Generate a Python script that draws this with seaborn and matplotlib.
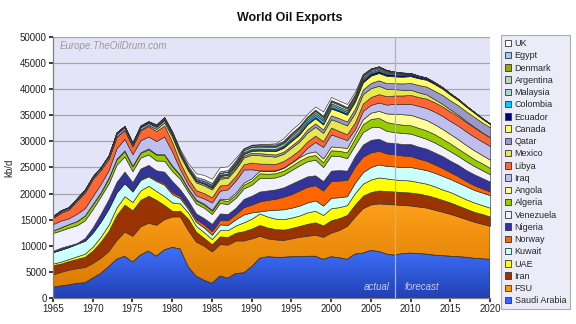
import numpy as np
import pandas as pd
import matplotlib
matplotlib.use("Agg")
import matplotlib.pyplot as plt
from matplotlib.patches import Patch
from matplotlib.colors import LinearSegmentedColormap
import seaborn as sns

years = list(range(1965, 2021))

# Net oil exports, kb/d (1965-2007 actual, 2008-2020 forecast)
saudi = [2050, 2300, 2500, 2800, 2900, 3800, 4700, 6000, 7400, 8000,
         6900, 8200, 9000, 8000, 9200, 9700, 9400, 6000, 4200, 3400,
         2800, 4200, 3800, 4700, 4800, 6000, 7600, 7900, 7800, 7800,
         7900, 7900, 8000, 8000, 7400, 7900, 7700, 7400, 8400, 8600,
         9100, 8900, 8400, 8200, 8500, 8600, 8500, 8400, 8200, 8100,
         8000, 7900, 7800, 7600, 7500, 7400]
fsu = [2450, 2700, 2900, 2900, 3000, 2900, 3000, 3000, 3700, 4700,
       5000, 5500, 5400, 6000, 5900, 5900, 6200, 7000, 6600, 6600,
       6100, 6100, 6400, 6300, 6200, 5400, 4300, 3500, 3400, 3300,
       3500, 3800, 3900, 4100, 4300, 4600, 5300, 6400, 7200, 8600,
       8800, 9200, 9600, 9700, 9300, 9100, 9000, 8900, 8700, 8400,
       8100, 7700, 7300, 7000, 6700, 6400]
iran = [1800, 1600, 1700, 1800, 2000, 2400, 3100, 3900, 4800, 5200,
        4900, 5100, 5200, 4800, 2700, 1100, 1100, 2200, 1900, 1500,
        1400, 1500, 1500, 1500, 1800, 1900, 2100, 2100, 2000, 2000,
        2000, 2100, 2300, 2400, 2200, 2400, 2300, 2100, 2300, 2400,
        2400, 2500, 2500, 2500, 2500, 2500, 2500, 2400, 2400, 2300,
        2200, 2100, 2000, 1900, 1900, 1800]
uae = [300, 370, 380, 480, 580, 750, 950, 1150, 1450, 1600,
       1600, 1800, 1900, 1700, 1700, 1600, 1400, 1200, 1100, 1100,
       1000, 1200, 1300, 1400, 1700, 1900, 2200, 2100, 2000, 2000,
       2000, 2000, 2200, 2200, 2000, 2300, 2100, 1900, 2200, 2300,
       2400, 2500, 2400, 2300, 2300, 2300, 2200, 2200, 2100, 2000,
       2000, 1900, 1800, 1800, 1700, 1700]
kuwait = [2200, 2300, 2300, 2400, 2500, 2700, 2900, 3100, 2900, 2500,
          2000, 2000, 1800, 1900, 2200, 1600, 1000, 700, 800, 900,
          800, 1100, 1000, 1200, 1500, 1200, 400, 1200, 1700, 1900,
          1900, 1900, 1900, 2000, 1800, 2000, 1900, 1700, 2000, 2200,
          2400, 2500, 2400, 2500, 2500, 2600, 2600, 2600, 2600, 2600,
          2500, 2500, 2500, 2400, 2400, 2400]
norway = [0, 0, 0, 0, 0, 0, 0, 0, 0, 30,
          100, 200, 200, 250, 300, 400, 400, 400, 500, 600,
          700, 800, 900, 1000, 1400, 1500, 1900, 2000, 2100, 2400,
          2600, 2900, 3000, 2900, 2900, 3200, 3200, 3100, 3100, 3000,
          2800, 2600, 2400, 2300, 2200, 2100, 1900, 1800, 1600, 1500,
          1300, 1200, 1000, 900, 800, 700]
nigeria = [250, 380, 300, 150, 500, 1000, 1500, 1800, 2000, 2200,
           1700, 2000, 2000, 1800, 2200, 2100, 1300, 1200, 1100, 1200,
           1400, 1300, 1200, 1200, 1600, 1700, 1900, 1800, 1800, 1800,
           2000, 2000, 2000, 1900, 1800, 2000, 2000, 1800, 2000, 2300,
           2400, 2300, 2100, 2200, 2200, 2300, 2300, 2300, 2300, 2300,
           2200, 2200, 2100, 2100, 2000, 1900]
venezuela = [3400, 3300, 3400, 3400, 3400, 3500, 3300, 3000, 3300, 2900,
             2100, 2100, 2000, 1900, 2100, 1900, 2000, 1600, 1900, 2000,
             1900, 2000, 1900, 1900, 2000, 2100, 2600, 2400, 2300, 2400,
             2600, 2800, 2900, 3000, 2700, 2900, 2700, 2400, 2100, 2400,
             2400, 2300, 2200, 2100, 2100, 2000, 2000, 1900, 1900, 1800,
             1800, 1700, 1700, 1600, 1500, 1400]
algeria = [500, 600, 700, 800, 900, 900, 700, 1000, 1000, 1000,
           900, 900, 1000, 1100, 1100, 900, 700, 600, 600, 600,
           600, 600, 600, 600, 700, 800, 900, 800, 800, 800,
           800, 900, 900, 900, 900, 1000, 1000, 1100, 1300, 1500,
           1600, 1700, 1700, 1600, 1600, 1600, 1600, 1600, 1600, 1500,
           1500, 1400, 1400, 1300, 1300, 1200]
angola = [0, 0, 0, 20, 30, 80, 100, 130, 150, 150,
          150, 100, 150, 120, 130, 140, 120, 110, 160, 180,
          200, 250, 330, 420, 420, 450, 500, 520, 480, 520,
          600, 660, 680, 700, 730, 750, 700, 860, 840, 950,
          1200, 1350, 1650, 1900, 2000, 2000, 2000, 2000, 1900, 1900,
          1800, 1800, 1700, 1700, 1600, 1600]
iraq = [1200, 1300, 1100, 1400, 1400, 1500, 1600, 1400, 2000, 2200,
        2200, 2300, 2300, 2500, 3400, 2700, 1000, 800, 800, 1000,
        1400, 1500, 1900, 2300, 2500, 1700, 50, 100, 100, 100,
        100, 200, 1000, 1800, 2200, 2300, 1900, 1500, 900, 1600,
        1500, 1600, 1700, 1900, 2000, 2100, 2200, 2300, 2400, 2500,
        2500, 2600, 2600, 2600, 2600, 2600]
libya = [1200, 1500, 1700, 2500, 3000, 3300, 2700, 2200, 2200, 1700,
         1500, 1900, 2000, 1900, 2100, 1800, 1300, 1100, 1000, 1000,
         1000, 1000, 900, 900, 1000, 1300, 1300, 1300, 1200, 1200,
         1200, 1200, 1200, 1200, 1100, 1300, 1200, 1100, 1300, 1400,
         1500, 1600, 1600, 1600, 1600, 1700, 1700, 1800, 1800, 1800,
         1800, 1800, 1800, 1800, 1700, 1700]
mexico = [50, 50, 50, 50, 50, 0, 0, 0, 0, 50,
          100, 150, 200, 400, 600, 1000, 1300, 1500, 1500, 1500,
          1500, 1300, 1300, 1300, 1300, 1500, 1600, 1500, 1400, 1400,
          1600, 1600, 1700, 1700, 1600, 1600, 1700, 1700, 1800, 1800,
          1700, 1600, 1400, 1200, 1100, 1000, 900, 800, 600, 500,
          400, 300, 200, 100, 50, 0]
qatar = [200, 300, 300, 300, 350, 350, 400, 450, 550, 500,
         400, 500, 400, 450, 500, 450, 400, 300, 280, 370,
         280, 300, 280, 300, 350, 380, 400, 400, 400, 400,
         400, 450, 600, 650, 650, 750, 750, 750, 850, 900,
         1000, 1050, 1100, 1150, 1200, 1300, 1400, 1500, 1600, 1700,
         1750, 1800, 1850, 1900, 1900, 1900]
canada = [0, 0, 0, 0, 50, 50, 50, 50, 50, 50,
          0, 0, 0, 0, 0, 0, 0, 0, 0, 0,
          100, 200, 300, 350, 300, 350, 500, 550, 650, 750,
          850, 900, 950, 1000, 950, 1300, 1300, 1300, 1300, 1350,
          1400, 1400, 1400, 1300, 1300, 1300, 1300, 1300, 1300, 1200,
          1100, 1000, 900, 800, 700, 600]
ecuador = [0, 0, 0, 0, 0, 0, 0, 100, 180, 150,
           120, 140, 120, 120, 120, 100, 100, 100, 150, 170,
           180, 170, 50, 170, 150, 170, 180, 200, 230, 250,
           260, 260, 250, 250, 250, 250, 250, 240, 270, 380,
           400, 390, 370, 350, 330, 310, 290, 270, 250, 230,
           210, 190, 170, 150, 130, 110]
colombia = [100, 100, 80, 80, 70, 60, 30, 20, 0, 0,
            0, 0, 0, 0, 0, 0, 0, 0, 0, 0,
            30, 100, 200, 200, 200, 220, 200, 200, 200, 220,
            300, 350, 350, 450, 550, 450, 350, 300, 270, 250,
            250, 250, 230, 200, 180, 150, 120, 100, 80, 50,
            30, 10, 0, 0, 0, 0]
malaysia = [0, 0, 0, 0, 0, 0, 0, 0, 20, 20,
            50, 100, 100, 150, 200, 200, 150, 200, 250, 300,
            300, 350, 350, 350, 400, 400, 400, 400, 400, 400,
            400, 400, 350, 350, 300, 300, 300, 300, 300, 300,
            250, 250, 200, 150, 100, 50, 20, 0, 0, 0,
            0, 0, 0, 0, 0, 0]
argentina = [0, 0, 0, 0, 0, 0, 0, 0, 0, 0,
             0, 0, 0, 0, 0, 0, 0, 0, 0, 0,
             0, 0, 0, 0, 20, 50, 50, 100, 150, 200,
             300, 350, 350, 350, 350, 350, 400, 350, 350, 300,
             250, 200, 150, 100, 50, 0, 0, 0, 0, 0,
             0, 0, 0, 0, 0, 0]
denmark = [0, 0, 0, 0, 0, 0, 0, 0, 0, 0,
           0, 0, 0, 0, 0, 0, 0, 0, 0, 0,
           0, 0, 0, 0, 0, 0, 50, 50, 70, 80,
           100, 100, 120, 140, 150, 180, 180, 200, 200, 200,
           180, 170, 150, 130, 110, 90, 70, 50, 30, 10,
           0, 0, 0, 0, 0, 0]
egypt = [0, 0, 0, 0, 0, 0, 0, 0, 0, 0,
         0, 50, 100, 150, 200, 250, 300, 300, 350, 350,
         350, 300, 300, 300, 250, 250, 250, 250, 250, 200,
         200, 150, 120, 100, 100, 80, 80, 60, 50, 30,
         20, 0, 0, 0, 0, 0, 0, 0, 0, 0,
         0, 0, 0, 0, 0, 0]
uk = [0, 0, 0, 0, 0, 0, 0, 0, 0, 0,
      0, 0, 0, 0, 0, 50, 300, 500, 700, 800,
      800, 800, 700, 500, 100, 100, 100, 150, 200, 500,
      600, 600, 500, 600, 800, 600, 500, 600, 500, 200,
      0, 0, 0, 0, 0, 0, 0, 0, 0, 0,
      0, 0, 0, 0, 0, 0]

countries = ["Saudi Arabia", "FSU", "Iran", "UAE", "Kuwait", "Norway",
             "Nigeria", "Venezuela", "Algeria", "Angola", "Iraq", "Libya",
             "Mexico", "Qatar", "Canada", "Ecuador", "Colombia", "Malaysia",
             "Argentina", "Denmark", "Egypt", "UK"]
series = [saudi, fsu, iran, uae, kuwait, norway, nigeria, venezuela, algeria,
          angola, iraq, libya, mexico, qatar, canada, ecuador, colombia,
          malaysia, argentina, denmark, egypt, uk]
colors = ["#3366FF", "#F59A00", "#993300", "#FFFF00", "#CCFFFF", "#FF6600",
          "#333399", "#F0F0FF", "#99CC00", "#FFFF99", "#BFBFEF", "#FF6633",
          "#E8E84C", "#9999CC", "#FFFF66", "#000080", "#00CCFF", "#A8D8D0",
          "#B8D8B8", "#99A800", "#99CCFF", "#FFFFFF"]

df = pd.DataFrame({c: s for c, s in zip(countries, series)}, index=years)

sns.set_theme(style="whitegrid")
plt.rcParams["font.family"] = ["Liberation Sans", "DejaVu Sans"]

fig = plt.figure(figsize=(5.76, 3.24), dpi=100)
ax = fig.add_axes([53 / 576, 1 - 298 / 324, 437 / 576, 261 / 324])
ax.set_facecolor("#E4E4F8")
ax.set_axisbelow(True)

polys = ax.stackplot(df.index, df.T.values, colors=colors,
                     edgecolor="#333333", linewidth=0.45)


def shade(poly, bottom, top, ymax):
    """Vertical gradient fill clipped to one stacked band."""
    cmap = LinearSegmentedColormap.from_list("band", [bottom, top])
    grad = np.linspace(0, 1, 256).reshape(-1, 1)
    im = ax.imshow(grad, cmap=cmap, aspect="auto", origin="lower",
                   extent=(1965, 2020, 0, ymax), zorder=0.95,
                   interpolation="bilinear")
    im.set_clip_path(poly.get_paths()[0], transform=ax.transData)
    poly.set_facecolor("none")


shade(polys[0], "#2140B4", "#3F74FF", 10000)
shade(polys[1], "#D87800", "#FFA21A", 19000)

ax.set_xlim(1965, 2020)
ax.set_ylim(0, 50000)
ax.set_xticks(range(1965, 2021, 5))
ax.set_yticks(range(0, 50001, 5000))
ax.grid(False)
ax.yaxis.grid(True, color="#A6A6A6", linewidth=0.9)
ax.tick_params(axis="both", labelsize=7, colors="#222222", length=3,
               direction="out", bottom=True, left=True, pad=1.5)
for side in ("top", "right"):
    ax.spines[side].set_visible(False)
for side in ("left", "bottom"):
    ax.spines[side].set_color("#808080")
    ax.spines[side].set_linewidth(0.9)
ax.set_ylabel("kb/d", fontsize=7, labelpad=4)

ax.axvline(2008, color="#B4B4B4", linewidth=0.9, zorder=3)
ax.text(2007.4, 1200, "actual", fontsize=7, style="italic", color="#C8C8F2",
        ha="right", va="bottom", zorder=4)
ax.text(2009.2, 1200, "forecast", fontsize=7, style="italic", color="#C8C8F2",
        ha="left", va="bottom", zorder=4)
ax.text(1965.8, 48300, "Europe.TheOilDrum.com", fontsize=7, style="italic",
        color="#9A9A9A", ha="left", va="center")

fig.text(0.503, 0.944, "World Oil Exports", fontsize=9, fontweight="bold",
         ha="center", va="center", color="#111111")

handles = [Patch(facecolor=c, edgecolor="#333333", linewidth=0.6, label=n)
           for n, c in zip(countries, colors)][::-1]
leg = fig.legend(handles=handles, loc="upper left",
                 bbox_to_anchor=(501 / 576, 1 - 35 / 324), fontsize=6.5,
                 frameon=True, fancybox=False, handlelength=0.7,
                 handleheight=0.7, handletextpad=0.35, labelspacing=0.36,
                 borderpad=0.45, borderaxespad=0)
leg.get_frame().set_facecolor("#E8E8F8")
leg.get_frame().set_edgecolor("#999999")
leg.get_frame().set_linewidth(0.8)

fig.savefig("out.png", dpi=100)
